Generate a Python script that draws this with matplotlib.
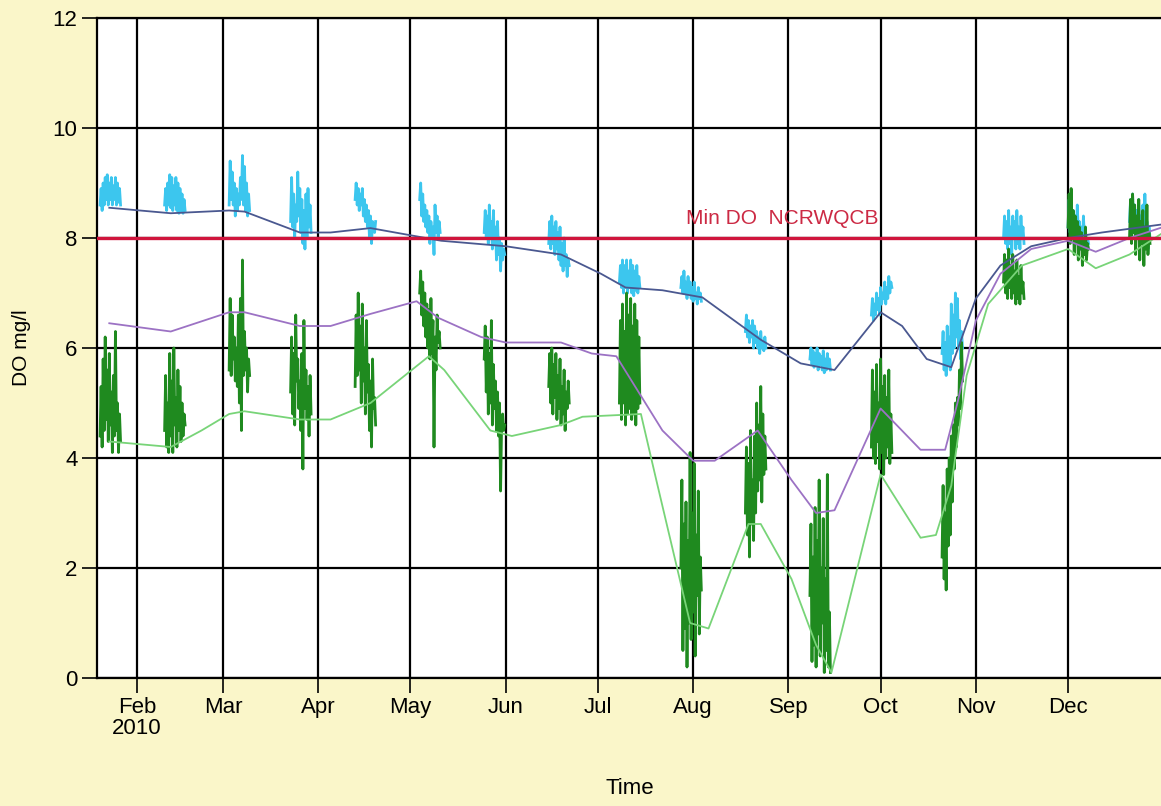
import matplotlib
matplotlib.use("Agg")
import matplotlib.pyplot as plt
from datetime import datetime, timedelta

plt.rcParams['font.family'] = ['Liberation Sans', 'DejaVu Sans']

# sonde deployments: start day of each ~week-long record, readings every 8 hours
deploy_start = ["2010-01-20", "2010-02-10", "2010-03-03", "2010-03-23", "2010-04-13",
                "2010-05-04", "2010-05-25", "2010-06-15", "2010-07-08", "2010-07-28",
                "2010-08-18", "2010-09-08", "2010-09-28", "2010-10-21", "2010-11-10",
                "2010-12-01", "2010-12-21"]
step_hours = 8

surface_do = [
    [8.6, 8.9, 8.5, 9.0, 8.6, 9.1, 8.7, 9.15, 8.6, 9.0, 8.7, 9.1, 8.6, 8.95, 8.7, 9.1, 8.6, 9.0, 8.65, 8.9, 8.6],
    [8.6, 8.9, 8.5, 9.0, 8.6, 9.15, 8.55, 9.1, 8.5, 8.95, 8.6, 9.1, 8.5, 9.0, 8.45, 8.9, 8.5, 8.8, 8.45, 8.7, 8.5],
    [8.6, 9.4, 8.7, 9.2, 8.6, 9.0, 8.4, 8.9, 8.5, 8.8, 8.6, 9.1, 8.7, 9.5, 8.6, 9.3, 8.5, 9.0, 8.4, 8.8, 8.5],
    [8.3, 9.1, 8.2, 8.8, 8.0, 8.6, 8.3, 9.2, 8.4, 8.9, 8.1, 8.7, 7.9, 8.5, 7.8, 8.8, 8.0, 8.9, 8.2, 8.6, 8.1],
    [8.7, 9.0, 8.6, 8.9, 8.5, 8.8, 8.6, 8.9, 8.4, 8.7, 8.3, 8.6, 8.2, 8.5, 8.0, 8.4, 7.9, 8.3, 8.2, 8.1, 8.3],
    [8.7, 9.0, 8.4, 8.8, 8.3, 8.6, 8.2, 8.5, 8.1, 8.4, 7.9, 8.3, 8.0, 8.2, 7.7, 8.6, 8.1, 8.4, 8.0, 8.3, 8.1],
    [8.1, 8.5, 8.0, 8.4, 7.9, 8.6, 8.0, 8.3, 7.8, 8.5, 7.9, 8.2, 7.6, 8.3, 7.7, 8.0, 7.4, 7.9, 7.6, 7.8, 7.7],
    [7.9, 8.3, 7.8, 8.4, 7.9, 8.2, 7.7, 8.3, 7.8, 8.1, 7.6, 8.2, 7.5, 7.9, 7.4, 8.0, 7.5, 7.7, 7.3, 7.6, 7.5],
    [7.2, 7.5, 7.1, 7.6, 7.0, 7.5, 7.1, 7.6, 7.0, 7.4, 7.1, 7.6, 7.0, 7.5, 6.95, 7.4, 7.05, 7.5, 7.0, 7.3, 7.1],
    [7.1, 7.3, 7.0, 7.4, 7.0, 7.2, 6.9, 7.3, 7.0, 7.2, 6.9, 7.1, 6.85, 7.2, 6.9, 7.0, 6.8, 7.1, 6.9, 7.0, 6.85],
    [6.3, 6.6, 6.2, 6.5, 6.1, 6.4, 6.2, 6.5, 6.0, 6.4, 6.1, 6.3, 6.0, 6.2, 5.9, 6.3, 6.0, 6.1, 5.95, 6.2, 6.0],
    [5.8, 6.0, 5.7, 5.95, 5.65, 5.9, 5.7, 6.0, 5.6, 5.9, 5.7, 5.85, 5.6, 5.95, 5.55, 5.8, 5.6, 5.9, 5.65, 5.8, 5.6],
    [6.6, 6.9, 6.5, 6.8, 6.6, 7.0, 6.7, 6.9, 6.6, 7.1, 6.8, 7.0, 6.9, 7.2, 6.8, 7.1, 6.9, 7.3, 7.0, 7.2, 7.1],
    [5.9, 6.3, 5.6, 6.1, 5.5, 6.4, 5.7, 6.2, 5.6, 6.8, 5.9, 6.6, 6.0, 7.0, 6.2, 6.9, 6.0, 6.5, 5.8, 6.3, 6.0],
    [8.0, 8.4, 7.9, 8.3, 7.8, 8.5, 7.9, 8.2, 7.7, 8.4, 8.0, 8.3, 7.8, 8.5, 7.9, 8.2, 7.8, 8.4, 8.0, 8.2, 7.9],
    [8.2, 8.7, 8.1, 8.8, 8.0, 8.5, 7.9, 8.4, 8.0, 8.6, 8.1, 8.3, 7.8, 8.2, 7.9, 8.4, 8.0, 8.1, 7.8, 8.0, 7.9],
    [8.3, 8.7, 8.2, 8.8, 8.1, 8.6, 8.0, 8.5, 8.2, 8.7, 8.1, 8.4, 7.9, 8.6, 8.0, 8.8, 8.1, 8.3, 7.8, 8.2, 8.0],
]

bottom_do = [
    [4.4, 5.3, 4.2, 5.8, 4.5, 6.2, 4.7, 5.6, 4.3, 5.9, 4.6, 5.2, 4.1, 5.5, 4.4, 6.3, 4.5, 5.0, 4.1, 4.8, 4.3],
    [4.5, 5.5, 4.2, 5.0, 4.1, 5.9, 4.4, 5.4, 4.1, 6.0, 4.6, 5.1, 4.2, 5.6, 4.5, 5.3, 4.3, 5.0, 4.4, 4.8, 4.6],
    [5.6, 6.9, 5.5, 6.6, 5.8, 6.2, 5.4, 6.0, 5.3, 6.6, 5.0, 6.9, 4.5, 7.6, 5.5, 6.3, 5.6, 6.0, 5.2, 5.8, 5.5],
    [5.2, 6.2, 4.8, 5.9, 4.6, 6.6, 5.4, 5.8, 4.9, 5.4, 4.5, 5.9, 3.8, 6.5, 4.9, 5.6, 4.7, 5.3, 4.4, 5.5, 4.8],
    [5.3, 6.6, 5.5, 7.0, 5.6, 6.4, 5.0, 6.8, 5.4, 6.0, 4.8, 6.5, 5.2, 5.7, 4.5, 5.4, 4.2, 5.8, 4.9, 5.1, 4.6],
    [7.0, 7.4, 6.6, 7.2, 6.4, 7.0, 6.2, 6.8, 6.0, 6.7, 5.8, 6.9, 5.9, 6.5, 4.2, 6.2, 5.6, 6.6, 6.1, 6.3, 6.0],
    [5.8, 6.4, 5.2, 6.2, 4.8, 5.9, 5.0, 6.5, 4.6, 5.7, 4.9, 5.4, 4.5, 5.2, 4.4, 5.0, 3.4, 4.6, 4.8, 4.5, 4.6],
    [5.3, 5.9, 5.0, 6.0, 4.8, 5.7, 5.1, 5.9, 4.7, 5.5, 4.9, 5.8, 4.6, 5.3, 4.8, 5.6, 4.5, 5.2, 4.9, 5.4, 5.0],
    [5.0, 6.5, 4.7, 6.8, 5.0, 6.3, 4.6, 7.0, 4.8, 6.6, 4.9, 6.9, 4.7, 6.4, 4.8, 6.8, 4.6, 6.5, 4.9, 6.2, 5.0],
    [2.0, 3.6, 0.5, 2.8, 0.9, 3.2, 0.2, 2.5, 1.0, 4.1, 0.7, 3.0, 1.2, 3.9, 0.4, 2.6, 1.5, 3.4, 0.8, 2.2, 1.6],
    [3.0, 4.2, 2.6, 3.9, 2.2, 4.5, 2.8, 3.6, 2.5, 4.4, 3.0, 5.0, 3.4, 4.6, 3.6, 5.3, 3.2, 4.8, 3.7, 4.4, 3.8],
    [1.5, 2.8, 0.3, 2.2, 0.6, 3.1, 0.2, 2.5, 0.8, 3.6, 0.4, 2.0, 1.0, 2.9, 0.1, 1.8, 0.5, 3.7, 0.2, 1.2, 0.1],
    [4.2, 5.6, 4.0, 5.2, 3.9, 5.7, 4.3, 5.0, 3.8, 5.8, 4.1, 5.3, 3.7, 5.5, 4.0, 5.1, 4.2, 5.6, 3.9, 4.8, 4.1],
    [2.2, 3.5, 1.8, 3.0, 1.6, 3.8, 2.4, 4.0, 2.6, 4.4, 3.2, 4.6, 3.8, 5.0, 4.2, 5.1, 4.6, 5.6, 4.9, 6.1, 5.4],
    [7.2, 7.7, 7.0, 7.6, 6.9, 7.8, 7.1, 7.5, 6.9, 7.7, 7.0, 7.4, 6.8, 7.6, 6.9, 7.3, 6.8, 7.5, 7.0, 7.2, 6.9],
    [8.2, 8.8, 7.9, 8.9, 8.0, 8.5, 7.7, 8.4, 7.9, 8.3, 7.6, 8.2, 7.8, 8.1, 7.5, 8.0, 7.7, 8.2, 7.6, 7.9, 7.8],
    [8.0, 8.7, 7.9, 8.8, 8.1, 8.6, 7.7, 8.4, 8.0, 8.7, 7.6, 8.3, 7.9, 8.5, 7.5, 8.2, 7.8, 8.6, 7.7, 8.1, 7.9],
]

# model output
upper_dates = ["2010-01-23", "2010-02-12", "2010-03-03", "2010-03-08", "2010-03-26", "2010-04-05",
               "2010-04-18", "2010-05-01", "2010-05-11", "2010-06-01", "2010-06-19", "2010-07-02",
               "2010-07-10", "2010-07-22", "2010-08-04", "2010-08-23", "2010-09-05", "2010-09-16",
               "2010-10-01", "2010-10-08", "2010-10-16", "2010-10-24", "2010-11-01", "2010-11-09",
               "2010-11-19", "2010-12-01", "2010-12-12", "2011-01-01"]
upper_do = [8.55, 8.45, 8.5, 8.48, 8.1, 8.1, 8.18, 8.05, 7.95, 7.85, 7.7, 7.35,
            7.1, 7.05, 6.92, 6.15, 5.72, 5.6, 6.65, 6.4, 5.8, 5.65, 6.9, 7.5,
            7.85, 8.0, 8.1, 8.25]

mid_dates = ["2010-01-23", "2010-02-12", "2010-03-03", "2010-03-08", "2010-03-26", "2010-04-05",
             "2010-04-18", "2010-05-03", "2010-05-10", "2010-05-24", "2010-06-01", "2010-06-19",
             "2010-06-29", "2010-07-07", "2010-07-22", "2010-08-01", "2010-08-08", "2010-08-22",
             "2010-09-02", "2010-09-10", "2010-09-16", "2010-10-01", "2010-10-14", "2010-10-22",
             "2010-10-26", "2010-11-01", "2010-11-09", "2010-11-19", "2010-12-01", "2010-12-10",
             "2010-12-21", "2011-01-01"]
mid_do = [6.45, 6.3, 6.65, 6.65, 6.4, 6.4, 6.62, 6.85, 6.55, 6.2, 6.1, 6.1,
          5.9, 5.85, 4.5, 3.95, 3.95, 4.5, 3.6, 3.0, 3.05, 4.9, 4.15, 4.15,
          5.0, 6.5, 7.35, 7.8, 7.95, 7.75, 8.0, 8.2]

lower_dates = ["2010-01-23", "2010-02-12", "2010-02-22", "2010-03-03", "2010-03-08", "2010-03-26",
               "2010-04-05", "2010-04-18", "2010-05-07", "2010-05-12", "2010-05-27", "2010-06-03",
               "2010-06-19", "2010-06-26", "2010-07-15", "2010-07-20", "2010-07-31", "2010-08-06",
               "2010-08-19", "2010-08-23", "2010-09-02", "2010-09-10", "2010-09-15", "2010-10-01",
               "2010-10-14", "2010-10-19", "2010-10-24", "2010-10-29", "2010-11-05", "2010-11-16",
               "2010-12-01", "2010-12-10", "2010-12-21", "2011-01-01"]
lower_do = [4.3, 4.2, 4.5, 4.8, 4.85, 4.7, 4.7, 5.0, 5.85, 5.6, 4.5, 4.4,
            4.6, 4.75, 4.8, 3.6, 1.0, 0.9, 2.8, 2.8, 1.8, 0.6, 0.1, 3.7,
            2.55, 2.6, 3.5, 5.5, 6.8, 7.5, 7.8, 7.45, 7.7, 8.1]

min_do = 8.0
month_labels = ["Feb\n2010", "Mar", "Apr", "May", "Jun", "Jul", "Aug", "Sep", "Oct", "Nov", "Dec"]


def to_dt(s):
    return datetime.strptime(s, "%Y-%m-%d")


bg = "#faf6c9"
fig = plt.figure(figsize=(11.61, 8.06), dpi=100, facecolor=bg)
ax = fig.add_axes([97 / 1161, 128 / 806, 1.0 - 97 / 1161 + 0.002, 660 / 806])
ax.set_facecolor("white")

for start, vals in zip(deploy_start, surface_do):
    t0 = to_dt(start)
    t = [t0 + timedelta(hours=step_hours * i) for i in range(len(vals))]
    ax.plot(t, vals, color="#3cc6ee", lw=2.0, zorder=3)

for start, vals in zip(deploy_start, bottom_do):
    t0 = to_dt(start)
    t = [t0 + timedelta(hours=step_hours * i) for i in range(len(vals))]
    ax.plot(t, vals, color="#1f8a1f", lw=2.0, zorder=4)

ax.plot([to_dt(d) for d in upper_dates], upper_do, color="#4a5890", lw=1.3, zorder=5)
ax.plot([to_dt(d) for d in mid_dates], mid_do, color="#9c72c4", lw=1.3, zorder=5)
ax.plot([to_dt(d) for d in lower_dates], lower_do, color="#78d478", lw=1.3, zorder=5)

ax.axhline(min_do, color="#d0143c", lw=2.4, zorder=6)
ax.text(to_dt("2010-08-30"), 8.36, "Min DO  NCRWQCB", color="#cc2a44", fontsize=15,
        ha="center", va="center", zorder=6)

ax.set_xlim(to_dt("2010-01-19"), to_dt("2011-01-01"))
ax.set_ylim(0, 12)
ax.set_yticks(range(0, 13, 2))
ticks = [datetime(2010, m, 1) for m in range(2, 13)]
ax.set_xticks(ticks)
ax.set_xticklabels(month_labels)
ax.grid(True, color="black", lw=1.6)
ax.set_axisbelow(True)

for side in ["left", "bottom", "top"]:
    ax.spines[side].set_color("black")
    ax.spines[side].set_linewidth(1.6)
ax.spines["right"].set_visible(False)
ax.tick_params(axis="both", length=11, width=1.2, labelsize=16, colors="black", pad=3)
for lbl in ax.get_xticklabels():
    lbl.set_linespacing(1.0)

ax.set_xlabel("Time", fontsize=16)
ax.xaxis.set_label_coords(0.5, -0.152)
ax.set_ylabel("DO mg/l", fontsize=15)
ax.yaxis.set_label_coords(-0.062, 0.5)

fig.savefig("out.png", dpi=100, facecolor=bg)
